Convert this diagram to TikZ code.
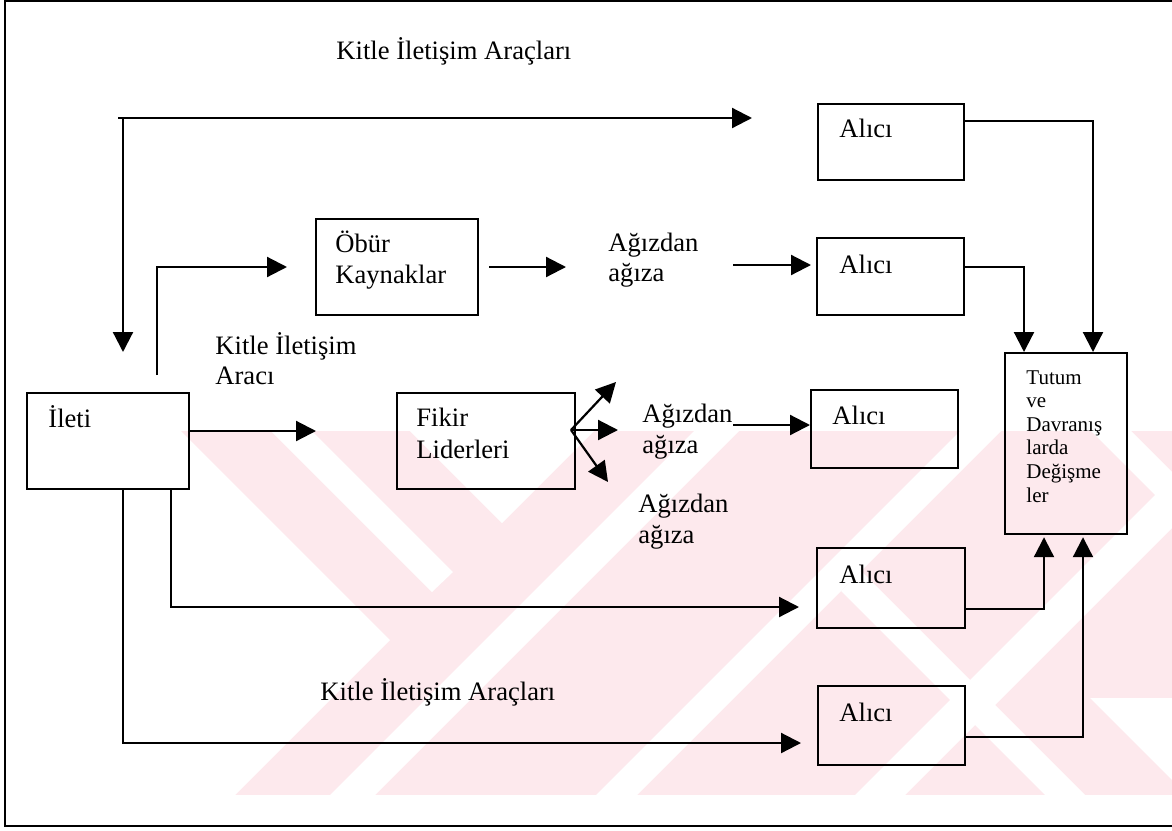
\documentclass[tikz,border=0pt]{standalone}
\usepackage{fontspec}
\setmainfont{Liberation Serif}
\usetikzlibrary{arrows.meta,calc}
\definecolor{wm}{RGB}{253,233,237}
\tikzset{
  conn/.style={line width=1.1pt},
  arr/.style={conn, -{Triangle[length=10pt,width=10pt]}},
  box/.style={draw, line width=1.1pt, anchor=north west, inner sep=0pt, rectangle},
  lbl/.style={anchor=base west, inner sep=0pt, font=\fontsize{13.3pt}{16pt}\selectfont},
  small/.style={anchor=base west, inner sep=0pt, font=\fontsize{10.5pt}{12pt}\selectfont},
}
\begin{document}
\begin{tikzpicture}[x=0.5pt,y=-0.5pt]
\useasboundingbox (0,0) rectangle (1172,830);
% watermark (faint background)
\fill[wm] (176,431) rectangle (1172,795);
\fill[white] (176,431) -- (181,431) -- (390,640) -- (235,795) -- (176,795) -- cycle;
\fill[white] (271,431) -- (312,431) -- (453,572) -- (432,592) -- cycle;
\fill[white] (410,431) -- (594,431) -- (502,523) -- cycle;
\fill[white] (330,795) -- (375,795) -- (739,431) -- (694,431) -- cycle;
\fill[white] (596,795) -- (637,795) -- (1001,431) -- (960,431) -- cycle;
\fill[white] (855,795) -- (905,795) -- (1172,528) -- (1172,478) -- cycle;
\fill[white] (841,591) -- (861,571) -- (1085,795) -- (1045,795) -- cycle;
\fill[white] (1091,431) -- (1131,431) -- (1172,472) -- (1172,512) -- cycle;
\fill[white] (1090,698) -- (1172,698) -- (1172,780) -- cycle;

% frame (no right side)
\coordinate (fTR) at (1172,1);
\coordinate (fTL) at (4.6,1);
\coordinate (fBL) at (4.6,826);
\coordinate (fBR) at (1172,826);
\draw[line width=1.1pt] (fTR) -- (fTL) -- (fBL) -- (fBR);

% boxes
\node[box, minimum width=81pt, minimum height=48pt] (ileti) at (26,392) {};
\node[box, minimum width=81pt, minimum height=48pt] (obur) at (315,218) {};
\node[box, minimum width=89pt, minimum height=48pt] (fikir) at (396,392) {};
\node[box, minimum width=73pt, minimum height=38pt] (alici1) at (817,103) {};
\node[box, minimum width=73.5pt, minimum height=38.5pt] (alici2) at (816,237) {};
\node[box, minimum width=73.5pt, minimum height=39pt] (alici3) at (810,389) {};
\node[box, minimum width=74pt, minimum height=40pt] (alici4) at (816,547) {};
\node[box, minimum width=73.5pt, minimum height=39.5pt] (alici5) at (817,685) {};
\node[box, minimum width=61pt, minimum height=90.5pt] (tutum) at (1004,352) {};

% texts
\node[lbl] (tKitleTop) at (336,59) {Kitle İletişim Araçları};
\node[lbl] (tObur1) at (335,252) {Öbür};
\node[lbl] (tObur2) at (335,283) {Kaynaklar};
\node[lbl] (tAraci1) at (215,354) {Kitle İletişim};
\node[lbl] (tAraci2) at (215,384) {Aracı};
\node[lbl] (tIleti) at (48,427) {İleti};
\node[lbl] (tFikir1) at (416,426) {Fikir};
\node[lbl] (tFikir2) at (416,458) {Liderleri};
\node[lbl] (tAg1a) at (608,251) {Ağızdan};
\node[lbl] (tAg1b) at (608,281) {ağıza};
\node[lbl] (tAg2a) at (642,422) {Ağızdan};
\node[lbl] (tAg2b) at (642,453) {ağıza};
\node[lbl] (tAg3a) at (638,512) {Ağızdan};
\node[lbl] (tAg3b) at (638,543) {ağıza};
\node[lbl] (tA1) at (839,137) {Alıcı};
\node[lbl] (tA2) at (839,273) {Alıcı};
\node[lbl] (tA3) at (832,424) {Alıcı};
\node[lbl] (tA4) at (839,583) {Alıcı};
\node[lbl] (tA5) at (839,721) {Alıcı};
\node[lbl] (tKitleBot) at (320,700) {Kitle İletişim Araçları};
\node[small] (tT1) at (1026,384) {Tutum};
\node[small] (tT2) at (1026,407) {ve};
\node[small] (tT3) at (1026,431) {Davranış};
\node[small] (tT4) at (1026,454) {larda};
\node[small] (tT5) at (1026,478) {Değişme};
\node[small] (tT6) at (1026,502) {ler};

% connectors
\coordinate (topL) at (118,118);
\coordinate (topR) at (752,118);
\coordinate (downTip) at (123,352);
\draw[arr] (topL) -- (topR);
\draw[arr] (downTip |- topL) -- (downTip);

\coordinate (s0) at (157,375);
\coordinate (s1) at (287,267);
\draw[arr] (s0) |- (s1);

\coordinate (o2) at (566,267);
\draw[arr] ($(obur.east |- o2)+(10,0)$) -- (o2);

\coordinate (a1s) at (733,265);
\draw[arr] (a1s) -- ($(alici2.west |- a1s)+(-5,0)$);

\coordinate (i2) at (316,431);
\draw[arr] (ileti.east |- i2) -- (i2);

\coordinate (f0) at (571,430);
\coordinate (fUp) at (616,382);
\coordinate (fMid) at (618,430);
\coordinate (fDn) at (608,482);
\draw[arr] (f0) -- (fUp);
\draw[arr] (f0) -- (fMid);
\draw[arr] (f0) -- (fDn);

\coordinate (a2s) at (733,425);
\draw[arr] (a2s) -- (alici3.west |- a2s);

\coordinate (b1) at (799,607);
\coordinate (b2) at (801,743);
\draw[arr] ($(ileti.south west)+(145,0)$) |- (b1);
\draw[arr] ($(ileti.south west)+(97,0)$) |- (b2);

\draw[arr] ($(alici1.north east)+(0,18)$) -| ($(tutum.north west)+(89,0)$);
\draw[arr] ($(alici2.north east)+(0,30)$) -| ($(tutum.north west)+(20,0)$);
\draw[arr] ($(alici4.north east)+(0,62)$) -| ($(tutum.south west)+(40,2)$);
\draw[arr] ($(alici5.north east)+(0,52)$) -| ($(tutum.south west)+(79,2)$);
\end{tikzpicture}
\end{document}
